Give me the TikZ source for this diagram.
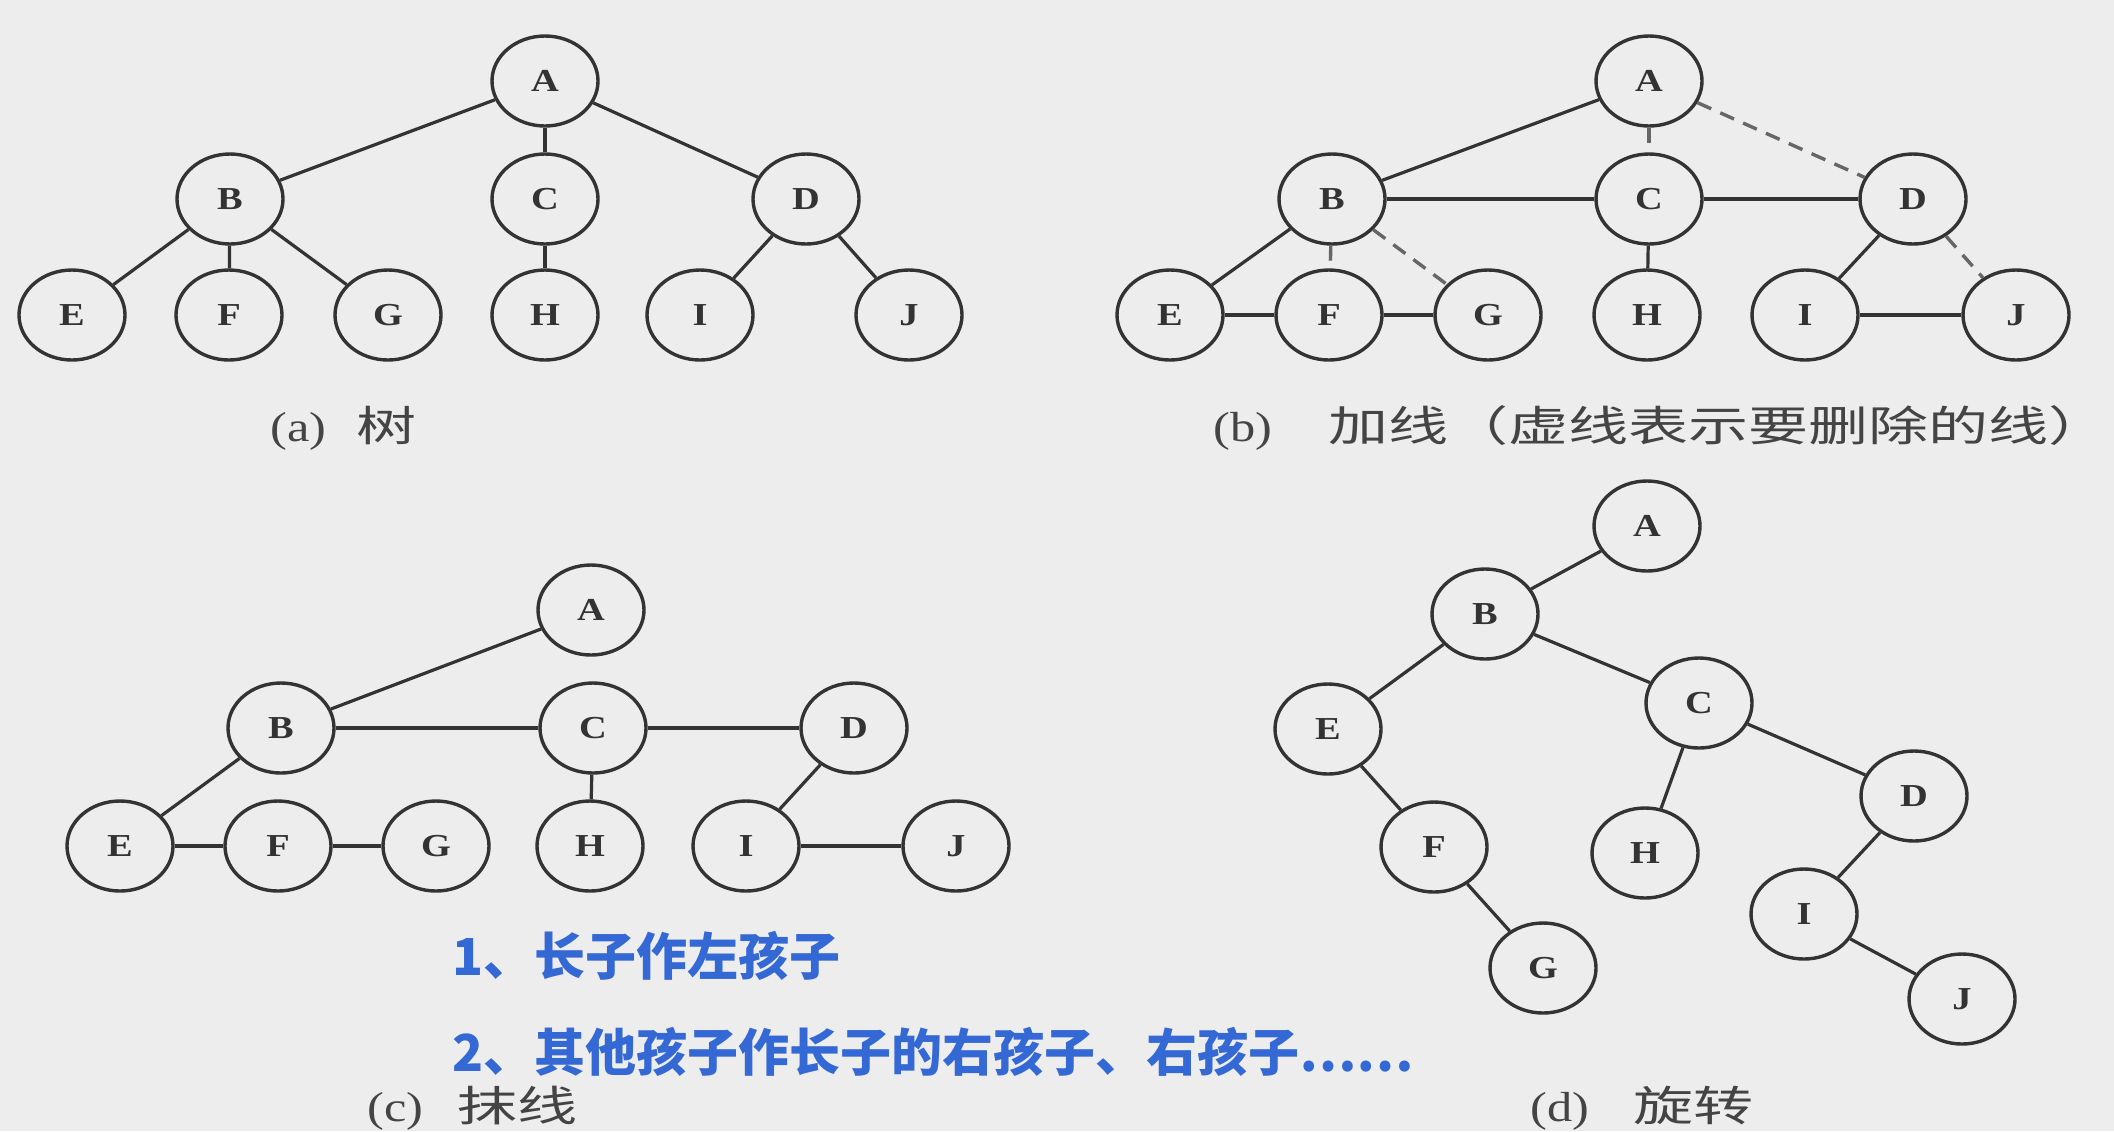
\documentclass[tikz,border=0pt]{standalone}
\usepackage{fontspec}
\usetikzlibrary{shapes.geometric}
\newfontfamily\nodefont[FakeStretch=1.2]{Liberation Serif}
\newfontfamily\capfont[FakeStretch=1.2]{Liberation Serif}
\newfontfamily\capcjk[FakeStretch=1.43]{Noto Sans CJK SC}
\newfontfamily\bluecjk{Noto Sans CJK SC}
\definecolor{bg}{HTML}{EDEDED}
\definecolor{ink}{HTML}{333333}
\definecolor{capink}{HTML}{444444}
\definecolor{dashink}{HTML}{666666}
\definecolor{blueink}{HTML}{3468D4}
\tikzset{
  tn/.style={ellipse,draw=ink,line width=1.7pt,fill=bg,minimum width=53pt,minimum height=45pt,inner sep=0pt,
    font=\nodefont\bfseries\fontsize{16pt}{18pt}\selectfont,text=ink},
  treeline/.style={draw=ink,line width=1.6pt},
  delline/.style={draw=dashink,line width=1.7pt,dash pattern=on 7.5pt off 5pt},
  captext/.style={anchor=west,inner sep=0pt,text=capink,font=\fontsize{21pt}{25pt}\selectfont},
  bluenote/.style={anchor=west,inner sep=0pt,text=blueink,font=\bluecjk\bfseries\fontsize{25.5pt}{30pt}\selectfont}
}
\begin{document}
\begin{tikzpicture}[x=0.5pt,y=-0.5pt]
\useasboundingbox (0,0) rectangle (2114,1131);
\clip (0,0) rectangle (2114,1131);
\fill[bg] (0,0) rectangle (2114,1131);
% (a)
\begin{scope}
\node[tn] (aA) at (545,81) {A};
\node[tn] (aB) at (230,199) {B};
\node[tn] (aC) at (545,199) {C};
\node[tn] (aD) at (806,199) {D};
\node[tn] (aE) at (72,315) {E};
\node[tn] (aF) at (229,315) {F};
\node[tn] (aG) at (388,315) {G};
\node[tn] (aH) at (545,315) {H};
\node[tn] (aI) at (700,315) {I};
\node[tn] (aJ) at (909,315) {J};
\draw[treeline] (aA) -- (aB);
\draw[treeline] (aA) -- (aC);
\draw[treeline] (aA) -- (aD);
\draw[treeline] (aB) -- (aE);
\draw[treeline] (aB) -- (aF);
\draw[treeline] (aB) -- (aG);
\draw[treeline] (aC) -- (aH);
\draw[treeline] (aD) -- (aI);
\draw[treeline] (aD) -- (aJ);
\node[captext] (capa) at (270,428) {{\capfont (a)}\hspace{15pt}{\capcjk 树}};
\end{scope}
% (b)
\begin{scope}
\node[tn] (bA) at (1649,81) {A};
\node[tn] (bB) at (1332,199) {B};
\node[tn] (bC) at (1649,199) {C};
\node[tn] (bD) at (1913,199) {D};
\node[tn] (bE) at (1170,315) {E};
\node[tn] (bF) at (1329,315) {F};
\node[tn] (bG) at (1488,315) {G};
\node[tn] (bH) at (1647,315) {H};
\node[tn] (bI) at (1805,315) {I};
\node[tn] (bJ) at (2016,315) {J};
\draw[treeline] (bA) -- (bB);
\draw[delline] (bA) -- (bC);
\draw[delline] (bA) -- (bD);
\draw[treeline] (bB) -- (bC);
\draw[treeline] (bC) -- (bD);
\draw[treeline] (bB) -- (bE);
\draw[delline] (bB) -- (bF);
\draw[delline] (bB) -- (bG);
\draw[treeline] (bC) -- (bH);
\draw[treeline] (bD) -- (bI);
\draw[delline] (bD) -- (bJ);
\draw[treeline] (bE) -- (bF);
\draw[treeline] (bF) -- (bG);
\draw[treeline] (bI) -- (bJ);
\node[captext] (capb) at (1213,428) {{\capfont (b)}\hspace{28pt}{\capcjk 加线（虚线表示要删除的线）}};
\end{scope}
% (c)
\begin{scope}
\node[tn] (cA) at (591,610) {A};
\node[tn] (cB) at (281,728) {B};
\node[tn] (cC) at (593,728) {C};
\node[tn] (cD) at (854,728) {D};
\node[tn] (cE) at (120,846) {E};
\node[tn] (cF) at (278,846) {F};
\node[tn] (cG) at (436,846) {G};
\node[tn] (cH) at (590,846) {H};
\node[tn] (cI) at (746,846) {I};
\node[tn] (cJ) at (956,846) {J};
\draw[treeline] (cA) -- (cB);
\draw[treeline] (cB) -- (cC);
\draw[treeline] (cC) -- (cD);
\draw[treeline] (cB) -- (cE);
\draw[treeline] (cE) -- (cF);
\draw[treeline] (cF) -- (cG);
\draw[treeline] (cC) -- (cH);
\draw[treeline] (cD) -- (cI);
\draw[treeline] (cI) -- (cJ);
\node[captext] (capc) at (367,1108) {{\capfont (c)}\hspace{17pt}{\capcjk 抹线}};
\end{scope}
% (d)
\begin{scope}
\node[tn] (dA) at (1647,526) {A};
\node[tn] (dB) at (1485,614) {B};
\node[tn] (dC) at (1699,703) {C};
\node[tn] (dE) at (1328,729) {E};
\node[tn] (dD) at (1914,796) {D};
\node[tn] (dF) at (1434,847) {F};
\node[tn] (dH) at (1645,853) {H};
\node[tn] (dI) at (1804,914) {I};
\node[tn] (dG) at (1543,968) {G};
\node[tn] (dJ) at (1962,999) {J};
\draw[treeline] (dA) -- (dB);
\draw[treeline] (dB) -- (dE);
\draw[treeline] (dB) -- (dC);
\draw[treeline] (dE) -- (dF);
\draw[treeline] (dF) -- (dG);
\draw[treeline] (dC) -- (dH);
\draw[treeline] (dC) -- (dD);
\draw[treeline] (dD) -- (dI);
\draw[treeline] (dI) -- (dJ);
\node[captext] (capd) at (1530,1108) {{\capfont (d)}\hspace{22pt}{\capcjk 旋转}};
\end{scope}
% blue notes
\node[bluenote] (note1) at (452,956) {1、长子作左孩子};
\node[bluenote] (note2) at (452,1052) {2、其他孩子作长子的右孩子、右孩子……};
\end{tikzpicture}
\end{document}
